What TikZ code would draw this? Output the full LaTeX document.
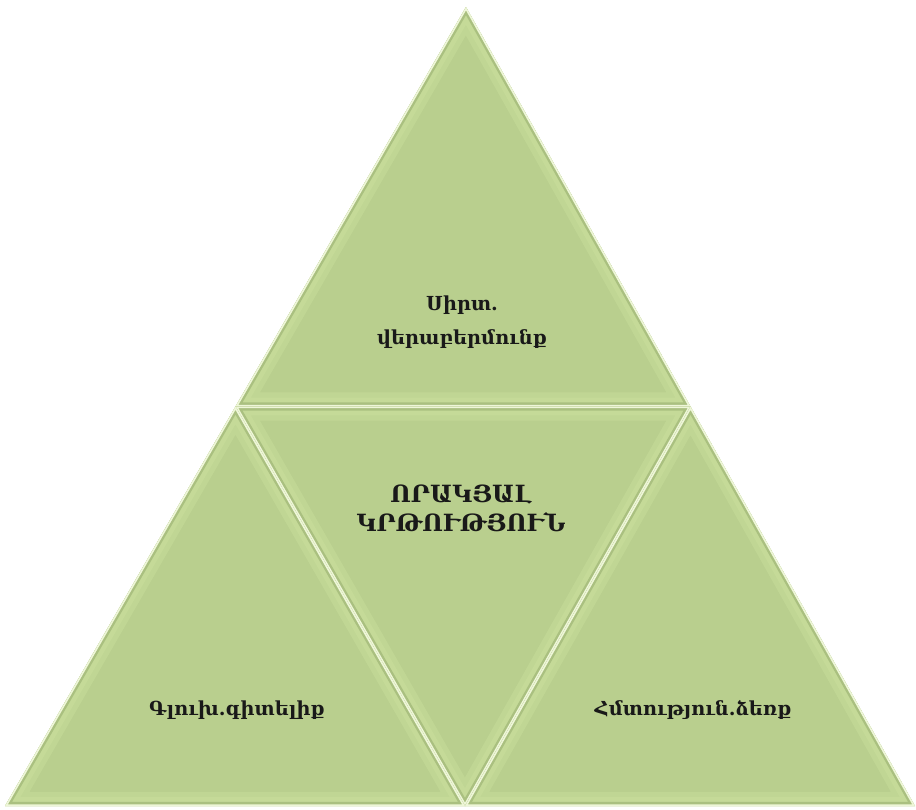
\documentclass[tikz,border=0pt]{standalone}
\usepackage{fontspec}
\newfontfamily\armfont{DejaVu Serif}
\definecolor{leaf}{HTML}{B9CF8E}
\definecolor{leafhi}{HTML}{CFE4A0}
\definecolor{leafdark}{HTML}{9FB676}
\definecolor{leafgap}{HTML}{EEF6D8}
\begin{document}
\begin{tikzpicture}[x=0.02cm,y=-0.02cm]
	\tikzstyle{tri}=[fill=leaf]
	\tikzstyle{glow}=[draw=leafhi, line join=round, draw opacity=0.35]
	\tikzstyle{shade}=[draw=leafdark, line width=4.6pt, line join=round, draw opacity=0.7]
	\tikzstyle{edge}=[draw=leafgap, line width=1.9pt, line join=round]
	\tikzstyle{label}=[font=\armfont\bfseries\fontsize{11}{13}\selectfont, align=center, text=black!90]
	\useasboundingbox (0,0) rectangle (916,809);
	
	% corners of the big triangle and the seam points
	\coordinate (top) at (466,7);
	\coordinate (left) at (5,806);
	\coordinate (right) at (915,806);
	\coordinate (midL) at (235.5,406.5);
	\coordinate (midR) at (690.5,406.5);
	\coordinate (midB) at (465,806);
	
	\foreach \a/\b/\c in {top/midL/midR, midL/midR/midB, midL/left/midB, midR/midB/right} {
		\begin{scope}
			\clip (\a) -- (\b) -- (\c) -- cycle;
			\fill[tri] (\a) -- (\b) -- (\c) -- cycle;
			\path[glow, line width=16pt] (\a) -- (\b) -- (\c) -- cycle;
			\path[glow, line width=10pt] (\a) -- (\b) -- (\c) -- cycle;
			\path[shade] (\a) -- (\b) -- (\c) -- cycle;
			\path[edge] (\a) -- (\b) -- (\c) -- cycle;
		\end{scope}
	}
	
	\draw node[label] at (462, 322) (heart) {Սիրտ.\\[6pt]վերաբերմունք};
	\draw node[label, font=\armfont\bfseries\fontsize{13.5}{16.5}\selectfont] at (461, 508) (quality) {ՈՐԱԿՅԱԼ\\ԿՐԹՈՒԹՅՈՒՆ};
	\draw node[label] at (237, 710) (head) {Գլուխ.գիտելիք};
	\draw node[label] at (693, 710) (hand) {Հմտություն.ձեռք};
\end{tikzpicture}
\end{document}
